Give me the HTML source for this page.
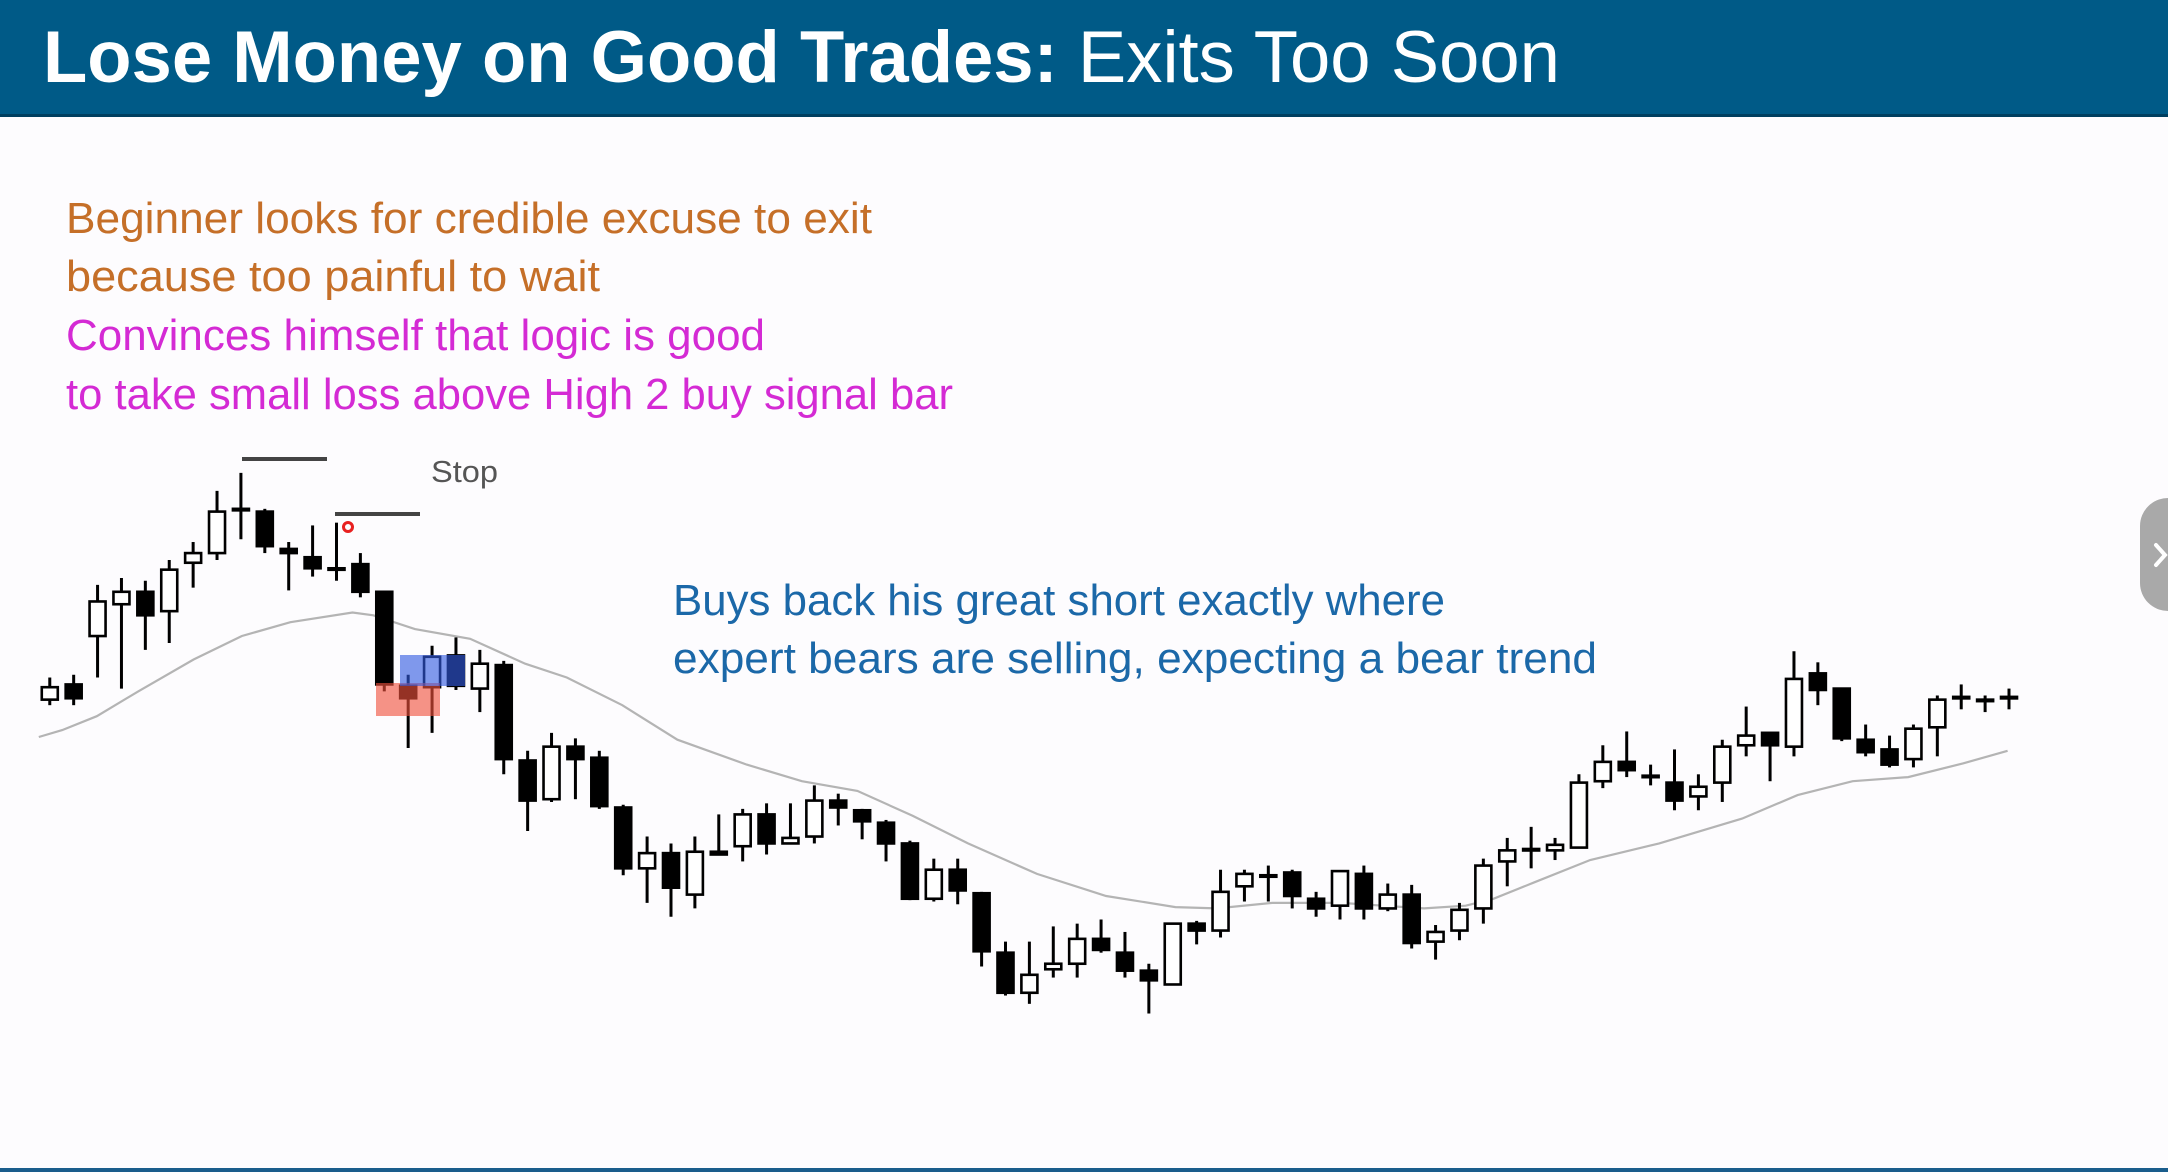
<!DOCTYPE html>
<html><head><meta charset="utf-8"><style>
html,body{margin:0;padding:0;background:#fff;}
svg{display:block;}
</style></head><body>
<svg id="s" width="2168" height="1172" viewBox="0 0 2168 1172" xmlns="http://www.w3.org/2000/svg" font-family="'Liberation Sans', sans-serif">
<rect x="0" y="0" width="2168" height="1172" fill="#fdfcfe"/>
<rect x="0" y="0" width="2168" height="117" fill="#005a87"/>
<rect x="0" y="114" width="2168" height="3" fill="#003f60"/>
<text x="43" y="82" font-size="73" fill="#fff" textLength="1517" lengthAdjust="spacingAndGlyphs"><tspan font-weight="bold">Lose Money on Good Trades:</tspan> Exits Too Soon</text>
<g font-size="44">
<text x="66" y="233" fill="#c56f28" textLength="806" lengthAdjust="spacingAndGlyphs">Beginner looks for credible excuse to exit</text>
<text x="66" y="291" fill="#c56f28" textLength="534" lengthAdjust="spacingAndGlyphs">because too painful to wait</text>
<text x="66" y="350" fill="#d42ad4" textLength="699" lengthAdjust="spacingAndGlyphs">Convinces himself that logic is good</text>
<text x="66" y="409" fill="#d42ad4" textLength="887" lengthAdjust="spacingAndGlyphs">to take small loss above High 2 buy signal bar</text>
<text x="673" y="615" fill="#1b68a8" textLength="772" lengthAdjust="spacingAndGlyphs">Buys back his great short exactly where</text>
<text x="673" y="673" fill="#1b68a8" textLength="924" lengthAdjust="spacingAndGlyphs">expert bears are selling, expecting a bear trend</text>
</g>
<text x="431" y="482" font-size="31" fill="#555" textLength="67" lengthAdjust="spacingAndGlyphs">Stop</text>
<line x1="242" y1="459" x2="327" y2="459" stroke="#444" stroke-width="4"/>
<line x1="335" y1="514" x2="420" y2="514" stroke="#444" stroke-width="4"/>
<g id="chart"></g>
<rect x="376" y="683" width="64" height="33" fill="rgba(240,80,60,0.62)"/>
<rect x="400" y="655" width="65" height="31" fill="rgba(50,90,225,0.62)"/>
<circle cx="348" cy="527" r="4.5" fill="none" stroke="#e82020" stroke-width="3"/>
<g>
<rect x="2140" y="498" width="60" height="113" rx="28" fill="#a9a9a9"/>
<path d="M2156 545 L2165 555 L2156 565" fill="none" stroke="#fff" stroke-width="4" stroke-linecap="round"/>
</g>
<rect x="0" y="1168" width="2168" height="4" fill="#1a5d8c"/>
</svg>
<script>
const opens  = [494,505,540,563,572,558,593,600,632,630,603,597,589,592,572,504,503,526,502,519,450,422,460,452,416,372,383,353,384,388,411,390,395,421,414,405,390,350,371,354,311,282,299,303,321,311,298,288,332,327,359,367,369,350,345,368,343,353,319,327,343,377,386,385,387,435,449,439,434,424,434,461,470,460,513,502,465,458,451,474,496,494,496];
const highs  = [510,512,577,582,580,595,608,645,658,632,608,620,622,600,572,512,533,539,530,522,457,470,466,457,418,395,390,395,411,415,419,419,432,426,415,407,392,379,379,355,319,319,330,332,335,326,303,332,334,371,371,374,371,355,370,374,361,360,331,347,379,394,402,394,440,461,471,447,458,440,465,489,470,529,521,502,476,468,476,497,505,497,502];
const lows   = [490,490,510,502,530,535,575,595,610,600,573,583,580,568,500,459,470,501,485,440,399,420,422,415,367,347,337,343,382,377,382,390,390,403,393,377,349,348,346,301,280,274,293,293,311,293,267,288,317,322,348,348,343,337,335,335,341,314,306,320,332,359,372,378,387,430,438,432,414,414,420,453,435,453,490,464,453,445,445,453,487,485,487];
const closes = [503,495,565,572,555,588,600,630,632,605,600,589,589,572,505,495,525,504,520,451,421,460,451,417,372,383,358,384,382,411,390,394,421,416,406,390,350,371,356,312,282,295,303,321,313,298,291,332,327,355,368,367,352,343,370,343,353,318,326,342,374,385,386,389,434,449,443,439,421,431,460,468,461,509,501,466,456,447,473,494,496,494,496];
const maIdx = [-0.46,0.52,1.97,3.7,6.02,8.04,10.07,12.67,13.54,15.28,17.59,19.9,21.64,23.96,26.27,29.17,31.48,33.8,36.11,38.43,41.32,44.21,47.11,48.84,51.16,54.05,57.52,59.26,60.42,62.15,64.47,67.36,70.83,73.15,75.46,77.78,80.09,81.94];
const maVal = [467,472,482,500,523,540,550,557,555,545,538,520,510,490,465,447,435,428,410,390,368,352,344,343,347,347,343,345,350,362,378,390,408,425,435,438,448,457];

const K = 1.3827;
function xScale(i){ return (36 + i*17.28)*K; }
function yScale(p){ return (1000 - p)*K; }
const NS = 'http://www.w3.org/2000/svg';
const g = document.getElementById('chart');
const BW = 16;

let d = '';
for (let k=0;k<maIdx.length;k++){ d += (k?'L':'M') + xScale(maIdx[k]).toFixed(1) + ' ' + yScale(maVal[k]).toFixed(1) + ' '; }
const ma = document.createElementNS(NS,'path');


ma.setAttribute('d', d);
ma.setAttribute('fill','none');
ma.setAttribute('stroke','#b4b4b4');
ma.setAttribute('stroke-width','2.2');
g.appendChild(ma);

for (let i=0;i<opens.length;i++){
  const x = xScale(i);
  const grp = document.createElementNS(NS,'g');
  
  
  const w = document.createElementNS(NS,'line');
  
  
  w.setAttribute('x1',x); w.setAttribute('x2',x);
  w.setAttribute('y1',yScale(highs[i])); w.setAttribute('y2',yScale(lows[i]));
  w.setAttribute('stroke','#000'); w.setAttribute('stroke-width','3');
  grp.appendChild(w);
  const top = yScale(Math.max(opens[i],closes[i]));
  const bot = yScale(Math.min(opens[i],closes[i]));
  const bull = closes[i] > opens[i];
  const r = document.createElementNS(NS,'rect');
  
  
  r.setAttribute('x', x-BW/2);
  r.setAttribute('y', top);
  r.setAttribute('width', BW);
  r.setAttribute('height', Math.max(bot-top, 1.5));
  r.setAttribute('fill', bull ? '#fff' : '#000');
  r.setAttribute('stroke','#000'); r.setAttribute('stroke-width','2.6');
  grp.appendChild(r);
  g.appendChild(grp);
}
</script>
</body></html>
